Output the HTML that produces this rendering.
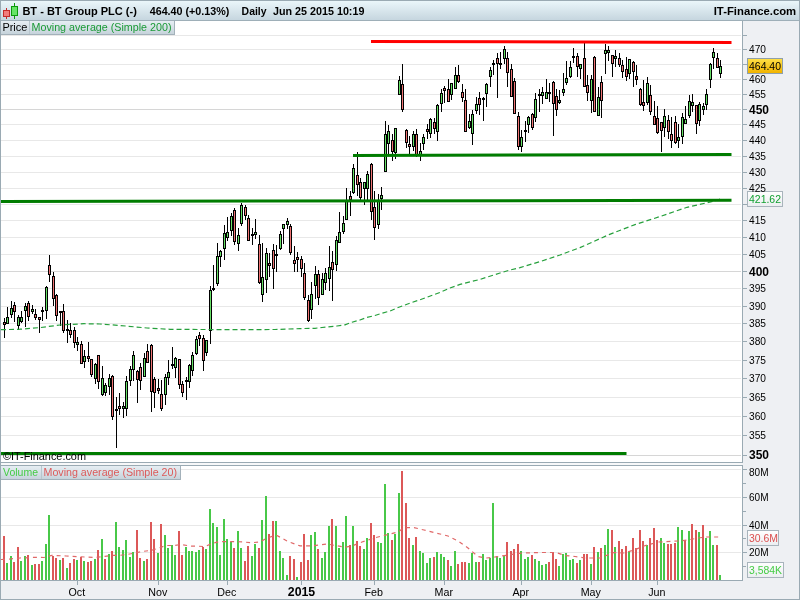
<!DOCTYPE html><html><head><meta charset="utf-8"><title>BT - BT Group PLC</title><style>html,body{margin:0;padding:0;background:#fff;}svg{display:block;}text{font-family:'Liberation Sans', Arial, sans-serif;}</style></head><body>
<svg width="800" height="600" viewBox="0 0 800 600">
<defs><linearGradient id="hdr" x1="0" y1="0" x2="0" y2="1"><stop offset="0" stop-color="#eaf6fa"/><stop offset="1" stop-color="#c6d6df"/></linearGradient><linearGradient id="leg" x1="0" y1="0" x2="0" y2="1"><stop offset="0" stop-color="#e6eef3"/><stop offset="1" stop-color="#c6d3db"/></linearGradient><linearGradient id="gold" x1="0" y1="0" x2="0" y2="1"><stop offset="0" stop-color="#ffe24a"/><stop offset="1" stop-color="#f2b400"/></linearGradient><linearGradient id="wbox" x1="0" y1="0" x2="0" y2="1"><stop offset="0" stop-color="#ffffff"/><stop offset="1" stop-color="#eceef1"/></linearGradient></defs>
<g shape-rendering="crispEdges">
<rect x="0" y="0" width="800" height="600" fill="#eef0f3"/>
<rect x="1" y="1" width="798" height="19" fill="url(#hdr)"/>
<rect x="1" y="20" width="798" height="1" fill="#9eafb8"/>
<rect x="1" y="21" width="741" height="441" fill="#ffffff"/>
<rect x="1" y="463" width="741" height="2" fill="#f7f8f9"/>
<rect x="1" y="466" width="741" height="114" fill="#ffffff"/>
<rect x="1" y="455" width="740" height="1" fill="#d6d6d6"/>
<rect x="1" y="435" width="740" height="1" fill="#e8e8e8"/>
<rect x="1" y="416" width="740" height="1" fill="#e8e8e8"/>
<rect x="1" y="397" width="740" height="1" fill="#e8e8e8"/>
<rect x="1" y="378" width="740" height="1" fill="#e8e8e8"/>
<rect x="1" y="360" width="740" height="1" fill="#e8e8e8"/>
<rect x="1" y="341" width="740" height="1" fill="#e8e8e8"/>
<rect x="1" y="323" width="740" height="1" fill="#e8e8e8"/>
<rect x="1" y="306" width="740" height="1" fill="#e8e8e8"/>
<rect x="1" y="288" width="740" height="1" fill="#e8e8e8"/>
<rect x="1" y="271" width="740" height="1" fill="#d6d6d6"/>
<rect x="1" y="254" width="740" height="1" fill="#e8e8e8"/>
<rect x="1" y="237" width="740" height="1" fill="#e8e8e8"/>
<rect x="1" y="220" width="740" height="1" fill="#e8e8e8"/>
<rect x="1" y="204" width="740" height="1" fill="#e8e8e8"/>
<rect x="1" y="188" width="740" height="1" fill="#e8e8e8"/>
<rect x="1" y="172" width="740" height="1" fill="#e8e8e8"/>
<rect x="1" y="156" width="740" height="1" fill="#e8e8e8"/>
<rect x="1" y="140" width="740" height="1" fill="#e8e8e8"/>
<rect x="1" y="124" width="740" height="1" fill="#e8e8e8"/>
<rect x="1" y="109" width="740" height="1" fill="#d6d6d6"/>
<rect x="1" y="94" width="740" height="1" fill="#e8e8e8"/>
<rect x="1" y="79" width="740" height="1" fill="#e8e8e8"/>
<rect x="1" y="64" width="740" height="1" fill="#e8e8e8"/>
<rect x="1" y="49" width="740" height="1" fill="#e8e8e8"/>
<rect x="1" y="35" width="740" height="1" fill="#e8e8e8"/>
<rect x="1" y="469" width="740" height="1" fill="#e8e8e8"/>
<rect x="1" y="497" width="740" height="1" fill="#e8e8e8"/>
<rect x="1" y="525" width="740" height="1" fill="#e8e8e8"/>
<rect x="1" y="552" width="740" height="1" fill="#e8e8e8"/>
<rect x="3" y="536" width="2" height="44" fill="#dc5858"/>
<rect x="6" y="563" width="2" height="17" fill="#48c848"/>
<rect x="10" y="556" width="2" height="24" fill="#48c848"/>
<rect x="13" y="562" width="2" height="18" fill="#dc5858"/>
<rect x="17" y="547" width="2" height="33" fill="#dc5858"/>
<rect x="20" y="561" width="2" height="19" fill="#48c848"/>
<rect x="24" y="556" width="2" height="24" fill="#48c848"/>
<rect x="27" y="555" width="2" height="25" fill="#dc5858"/>
<rect x="31" y="565" width="2" height="15" fill="#48c848"/>
<rect x="34" y="564" width="2" height="16" fill="#dc5858"/>
<rect x="38" y="564" width="2" height="16" fill="#dc5858"/>
<rect x="41" y="561" width="2" height="19" fill="#48c848"/>
<rect x="45" y="544" width="2" height="36" fill="#48c848"/>
<rect x="48" y="515" width="2" height="65" fill="#48c848"/>
<rect x="52" y="556" width="2" height="24" fill="#dc5858"/>
<rect x="55" y="558" width="2" height="22" fill="#dc5858"/>
<rect x="59" y="560" width="2" height="20" fill="#48c848"/>
<rect x="62" y="558" width="2" height="22" fill="#dc5858"/>
<rect x="66" y="568" width="2" height="12" fill="#48c848"/>
<rect x="69" y="563" width="2" height="17" fill="#dc5858"/>
<rect x="73" y="559" width="2" height="21" fill="#dc5858"/>
<rect x="76" y="560" width="2" height="20" fill="#48c848"/>
<rect x="80" y="557" width="2" height="23" fill="#dc5858"/>
<rect x="83" y="561" width="2" height="19" fill="#48c848"/>
<rect x="87" y="562" width="2" height="18" fill="#dc5858"/>
<rect x="90" y="561" width="2" height="19" fill="#dc5858"/>
<rect x="94" y="559" width="2" height="21" fill="#48c848"/>
<rect x="97" y="550" width="2" height="30" fill="#dc5858"/>
<rect x="101" y="539" width="2" height="41" fill="#48c848"/>
<rect x="104" y="559" width="2" height="21" fill="#dc5858"/>
<rect x="108" y="554" width="2" height="26" fill="#48c848"/>
<rect x="111" y="551" width="2" height="29" fill="#dc5858"/>
<rect x="115" y="522" width="2" height="58" fill="#48c848"/>
<rect x="118" y="547" width="2" height="33" fill="#48c848"/>
<rect x="122" y="550" width="2" height="30" fill="#48c848"/>
<rect x="125" y="540" width="2" height="40" fill="#48c848"/>
<rect x="129" y="557" width="2" height="23" fill="#48c848"/>
<rect x="132" y="552" width="2" height="28" fill="#48c848"/>
<rect x="136" y="530" width="2" height="50" fill="#dc5858"/>
<rect x="139" y="558" width="2" height="22" fill="#dc5858"/>
<rect x="143" y="561" width="2" height="19" fill="#48c848"/>
<rect x="146" y="559" width="2" height="21" fill="#dc5858"/>
<rect x="150" y="522" width="2" height="58" fill="#dc5858"/>
<rect x="153" y="539" width="2" height="41" fill="#dc5858"/>
<rect x="157" y="553" width="2" height="27" fill="#48c848"/>
<rect x="160" y="524" width="2" height="56" fill="#dc5858"/>
<rect x="164" y="535" width="2" height="45" fill="#48c848"/>
<rect x="167" y="548" width="2" height="32" fill="#48c848"/>
<rect x="171" y="545" width="2" height="35" fill="#48c848"/>
<rect x="174" y="555" width="2" height="25" fill="#48c848"/>
<rect x="178" y="531" width="2" height="49" fill="#dc5858"/>
<rect x="181" y="555" width="2" height="25" fill="#dc5858"/>
<rect x="185" y="547" width="2" height="33" fill="#48c848"/>
<rect x="188" y="551" width="2" height="29" fill="#48c848"/>
<rect x="191" y="551" width="2" height="29" fill="#48c848"/>
<rect x="195" y="552" width="2" height="28" fill="#48c848"/>
<rect x="198" y="550" width="2" height="30" fill="#48c848"/>
<rect x="202" y="547" width="2" height="33" fill="#dc5858"/>
<rect x="205" y="549" width="2" height="31" fill="#48c848"/>
<rect x="209" y="509" width="2" height="71" fill="#48c848"/>
<rect x="212" y="523" width="2" height="57" fill="#48c848"/>
<rect x="216" y="527" width="2" height="53" fill="#48c848"/>
<rect x="219" y="555" width="2" height="25" fill="#48c848"/>
<rect x="223" y="519" width="2" height="61" fill="#48c848"/>
<rect x="226" y="539" width="2" height="41" fill="#48c848"/>
<rect x="230" y="542" width="2" height="38" fill="#48c848"/>
<rect x="233" y="548" width="2" height="32" fill="#dc5858"/>
<rect x="237" y="531" width="2" height="49" fill="#48c848"/>
<rect x="240" y="548" width="2" height="32" fill="#48c848"/>
<rect x="244" y="561" width="2" height="19" fill="#dc5858"/>
<rect x="247" y="546" width="2" height="34" fill="#dc5858"/>
<rect x="251" y="556" width="2" height="24" fill="#48c848"/>
<rect x="254" y="544" width="2" height="36" fill="#48c848"/>
<rect x="258" y="548" width="2" height="32" fill="#dc5858"/>
<rect x="261" y="520" width="2" height="60" fill="#48c848"/>
<rect x="265" y="496" width="2" height="84" fill="#48c848"/>
<rect x="268" y="534" width="2" height="46" fill="#dc5858"/>
<rect x="272" y="521" width="2" height="59" fill="#dc5858"/>
<rect x="275" y="521" width="2" height="59" fill="#48c848"/>
<rect x="279" y="551" width="2" height="29" fill="#48c848"/>
<rect x="282" y="558" width="2" height="22" fill="#48c848"/>
<rect x="286" y="575" width="2" height="5" fill="#48c848"/>
<rect x="289" y="556" width="2" height="24" fill="#dc5858"/>
<rect x="293" y="559" width="2" height="21" fill="#dc5858"/>
<rect x="296" y="577" width="2" height="3" fill="#48c848"/>
<rect x="300" y="562" width="2" height="18" fill="#dc5858"/>
<rect x="303" y="534" width="2" height="46" fill="#dc5858"/>
<rect x="307" y="560" width="2" height="20" fill="#dc5858"/>
<rect x="310" y="535" width="2" height="45" fill="#48c848"/>
<rect x="314" y="532" width="2" height="48" fill="#48c848"/>
<rect x="317" y="549" width="2" height="31" fill="#dc5858"/>
<rect x="321" y="558" width="2" height="22" fill="#48c848"/>
<rect x="324" y="552" width="2" height="28" fill="#48c848"/>
<rect x="328" y="526" width="2" height="54" fill="#48c848"/>
<rect x="331" y="519" width="2" height="61" fill="#dc5858"/>
<rect x="335" y="526" width="2" height="54" fill="#48c848"/>
<rect x="338" y="548" width="2" height="32" fill="#48c848"/>
<rect x="342" y="542" width="2" height="38" fill="#48c848"/>
<rect x="345" y="516" width="2" height="64" fill="#48c848"/>
<rect x="349" y="545" width="2" height="35" fill="#dc5858"/>
<rect x="352" y="526" width="2" height="54" fill="#48c848"/>
<rect x="356" y="541" width="2" height="39" fill="#dc5858"/>
<rect x="359" y="546" width="2" height="34" fill="#dc5858"/>
<rect x="363" y="549" width="2" height="31" fill="#48c848"/>
<rect x="366" y="538" width="2" height="42" fill="#48c848"/>
<rect x="370" y="523" width="2" height="57" fill="#dc5858"/>
<rect x="373" y="535" width="2" height="45" fill="#dc5858"/>
<rect x="377" y="542" width="2" height="38" fill="#48c848"/>
<rect x="380" y="543" width="2" height="37" fill="#48c848"/>
<rect x="384" y="484" width="2" height="96" fill="#48c848"/>
<rect x="387" y="533" width="2" height="47" fill="#48c848"/>
<rect x="391" y="540" width="2" height="40" fill="#dc5858"/>
<rect x="394" y="534" width="2" height="46" fill="#48c848"/>
<rect x="398" y="493" width="2" height="87" fill="#48c848"/>
<rect x="401" y="471" width="2" height="109" fill="#dc5858"/>
<rect x="405" y="503" width="2" height="77" fill="#dc5858"/>
<rect x="408" y="538" width="2" height="42" fill="#dc5858"/>
<rect x="412" y="545" width="2" height="35" fill="#48c848"/>
<rect x="415" y="537" width="2" height="43" fill="#dc5858"/>
<rect x="419" y="551" width="2" height="29" fill="#48c848"/>
<rect x="422" y="553" width="2" height="27" fill="#48c848"/>
<rect x="426" y="563" width="2" height="17" fill="#48c848"/>
<rect x="429" y="558" width="2" height="22" fill="#48c848"/>
<rect x="433" y="557" width="2" height="23" fill="#dc5858"/>
<rect x="436" y="552" width="2" height="28" fill="#48c848"/>
<rect x="440" y="554" width="2" height="26" fill="#48c848"/>
<rect x="443" y="557" width="2" height="23" fill="#48c848"/>
<rect x="447" y="560" width="2" height="20" fill="#dc5858"/>
<rect x="450" y="566" width="2" height="14" fill="#48c848"/>
<rect x="454" y="551" width="2" height="29" fill="#48c848"/>
<rect x="457" y="564" width="2" height="16" fill="#dc5858"/>
<rect x="461" y="562" width="2" height="18" fill="#dc5858"/>
<rect x="464" y="562" width="2" height="18" fill="#dc5858"/>
<rect x="468" y="563" width="2" height="17" fill="#48c848"/>
<rect x="471" y="553" width="2" height="27" fill="#48c848"/>
<rect x="475" y="562" width="2" height="18" fill="#48c848"/>
<rect x="478" y="562" width="2" height="18" fill="#dc5858"/>
<rect x="482" y="554" width="2" height="26" fill="#48c848"/>
<rect x="485" y="560" width="2" height="20" fill="#48c848"/>
<rect x="489" y="558" width="2" height="22" fill="#48c848"/>
<rect x="492" y="503" width="2" height="77" fill="#48c848"/>
<rect x="496" y="556" width="2" height="24" fill="#48c848"/>
<rect x="499" y="558" width="2" height="22" fill="#48c848"/>
<rect x="503" y="556" width="2" height="24" fill="#48c848"/>
<rect x="506" y="542" width="2" height="38" fill="#dc5858"/>
<rect x="510" y="551" width="2" height="29" fill="#dc5858"/>
<rect x="513" y="549" width="2" height="31" fill="#dc5858"/>
<rect x="517" y="544" width="2" height="36" fill="#dc5858"/>
<rect x="520" y="551" width="2" height="29" fill="#48c848"/>
<rect x="524" y="559" width="2" height="21" fill="#48c848"/>
<rect x="527" y="557" width="2" height="23" fill="#48c848"/>
<rect x="531" y="555" width="2" height="25" fill="#dc5858"/>
<rect x="534" y="559" width="2" height="21" fill="#48c848"/>
<rect x="538" y="561" width="2" height="19" fill="#48c848"/>
<rect x="541" y="565" width="2" height="15" fill="#48c848"/>
<rect x="545" y="564" width="2" height="16" fill="#48c848"/>
<rect x="548" y="562" width="2" height="18" fill="#dc5858"/>
<rect x="552" y="552" width="2" height="28" fill="#dc5858"/>
<rect x="555" y="559" width="2" height="21" fill="#dc5858"/>
<rect x="558" y="566" width="2" height="14" fill="#48c848"/>
<rect x="562" y="554" width="2" height="26" fill="#48c848"/>
<rect x="565" y="553" width="2" height="27" fill="#48c848"/>
<rect x="569" y="560" width="2" height="20" fill="#48c848"/>
<rect x="572" y="559" width="2" height="21" fill="#48c848"/>
<rect x="576" y="563" width="2" height="17" fill="#dc5858"/>
<rect x="579" y="560" width="2" height="20" fill="#48c848"/>
<rect x="583" y="554" width="2" height="26" fill="#dc5858"/>
<rect x="586" y="554" width="2" height="26" fill="#dc5858"/>
<rect x="590" y="564" width="2" height="16" fill="#48c848"/>
<rect x="593" y="547" width="2" height="33" fill="#dc5858"/>
<rect x="597" y="552" width="2" height="28" fill="#48c848"/>
<rect x="600" y="548" width="2" height="32" fill="#dc5858"/>
<rect x="604" y="545" width="2" height="35" fill="#48c848"/>
<rect x="607" y="529" width="2" height="51" fill="#48c848"/>
<rect x="611" y="530" width="2" height="50" fill="#dc5858"/>
<rect x="614" y="547" width="2" height="33" fill="#48c848"/>
<rect x="618" y="541" width="2" height="39" fill="#dc5858"/>
<rect x="621" y="549" width="2" height="31" fill="#dc5858"/>
<rect x="625" y="546" width="2" height="34" fill="#dc5858"/>
<rect x="628" y="551" width="2" height="29" fill="#48c848"/>
<rect x="632" y="538" width="2" height="42" fill="#dc5858"/>
<rect x="635" y="548" width="2" height="32" fill="#dc5858"/>
<rect x="639" y="530" width="2" height="50" fill="#dc5858"/>
<rect x="642" y="541" width="2" height="39" fill="#dc5858"/>
<rect x="646" y="545" width="2" height="35" fill="#48c848"/>
<rect x="649" y="538" width="2" height="42" fill="#dc5858"/>
<rect x="653" y="528" width="2" height="52" fill="#dc5858"/>
<rect x="656" y="540" width="2" height="40" fill="#dc5858"/>
<rect x="660" y="538" width="2" height="42" fill="#48c848"/>
<rect x="663" y="543" width="2" height="37" fill="#48c848"/>
<rect x="667" y="544" width="2" height="36" fill="#dc5858"/>
<rect x="670" y="544" width="2" height="36" fill="#dc5858"/>
<rect x="674" y="543" width="2" height="37" fill="#dc5858"/>
<rect x="677" y="527" width="2" height="53" fill="#48c848"/>
<rect x="681" y="530" width="2" height="50" fill="#48c848"/>
<rect x="684" y="540" width="2" height="40" fill="#dc5858"/>
<rect x="688" y="531" width="2" height="49" fill="#48c848"/>
<rect x="691" y="524" width="2" height="56" fill="#dc5858"/>
<rect x="695" y="530" width="2" height="50" fill="#dc5858"/>
<rect x="698" y="532" width="2" height="48" fill="#48c848"/>
<rect x="702" y="525" width="2" height="55" fill="#dc5858"/>
<rect x="705" y="538" width="2" height="42" fill="#48c848"/>
<rect x="709" y="531" width="2" height="49" fill="#48c848"/>
<rect x="712" y="545" width="2" height="35" fill="#48c848"/>
<rect x="716" y="545" width="2" height="35" fill="#dc5858"/>
<rect x="719" y="575" width="2" height="5" fill="#48c848"/>
<rect x="4" y="318" width="1" height="20" fill="#000"/>
<rect x="3" y="322" width="3" height="3" fill="#000"/>
<rect x="4" y="323" width="1" height="1" fill="#f07474"/>
<rect x="7" y="307" width="1" height="17" fill="#000"/>
<rect x="6" y="317" width="3" height="7" fill="#000"/>
<rect x="7" y="318" width="1" height="5" fill="#66e066"/>
<rect x="11" y="301" width="1" height="17" fill="#000"/>
<rect x="10" y="308" width="3" height="7" fill="#000"/>
<rect x="11" y="309" width="1" height="5" fill="#66e066"/>
<rect x="14" y="302" width="1" height="20" fill="#000"/>
<rect x="13" y="305" width="3" height="7" fill="#000"/>
<rect x="14" y="306" width="1" height="5" fill="#f07474"/>
<rect x="18" y="315" width="1" height="15" fill="#000"/>
<rect x="17" y="317" width="3" height="9" fill="#000"/>
<rect x="18" y="318" width="1" height="7" fill="#66e066"/>
<rect x="21" y="311" width="1" height="12" fill="#000"/>
<rect x="20" y="317" width="3" height="5" fill="#000"/>
<rect x="21" y="318" width="1" height="3" fill="#66e066"/>
<rect x="25" y="303" width="1" height="24" fill="#000"/>
<rect x="24" y="306" width="3" height="5" fill="#000"/>
<rect x="25" y="307" width="1" height="3" fill="#66e066"/>
<rect x="28" y="301" width="1" height="20" fill="#000"/>
<rect x="27" y="303" width="3" height="14" fill="#000"/>
<rect x="28" y="304" width="1" height="12" fill="#f07474"/>
<rect x="32" y="305" width="1" height="9" fill="#000"/>
<rect x="31" y="309" width="3" height="3" fill="#000"/>
<rect x="32" y="310" width="1" height="1" fill="#66e066"/>
<rect x="35" y="309" width="1" height="11" fill="#000"/>
<rect x="34" y="314" width="3" height="4" fill="#000"/>
<rect x="35" y="315" width="1" height="2" fill="#f07474"/>
<rect x="39" y="317" width="1" height="16" fill="#000"/>
<rect x="38" y="317" width="3" height="3" fill="#000"/>
<rect x="39" y="318" width="1" height="1" fill="#f07474"/>
<rect x="42" y="307" width="1" height="14" fill="#000"/>
<rect x="41" y="310" width="3" height="2" fill="#000"/>
<rect x="46" y="286" width="1" height="33" fill="#000"/>
<rect x="45" y="287" width="3" height="24" fill="#000"/>
<rect x="46" y="288" width="1" height="22" fill="#66e066"/>
<rect x="49" y="255" width="1" height="27" fill="#000"/>
<rect x="48" y="265" width="3" height="10" fill="#000"/>
<rect x="49" y="266" width="1" height="8" fill="#f07474"/>
<rect x="53" y="272" width="1" height="34" fill="#000"/>
<rect x="52" y="276" width="3" height="23" fill="#000"/>
<rect x="53" y="277" width="1" height="21" fill="#f07474"/>
<rect x="56" y="294" width="1" height="27" fill="#000"/>
<rect x="55" y="295" width="3" height="21" fill="#000"/>
<rect x="56" y="296" width="1" height="19" fill="#f07474"/>
<rect x="60" y="312" width="1" height="14" fill="#000"/>
<rect x="59" y="311" width="3" height="2" fill="#000"/>
<rect x="63" y="304" width="1" height="29" fill="#000"/>
<rect x="62" y="311" width="3" height="20" fill="#000"/>
<rect x="63" y="312" width="1" height="18" fill="#f07474"/>
<rect x="67" y="320" width="1" height="23" fill="#000"/>
<rect x="66" y="329" width="3" height="2" fill="#000"/>
<rect x="70" y="323" width="1" height="15" fill="#000"/>
<rect x="69" y="330" width="3" height="5" fill="#000"/>
<rect x="70" y="331" width="1" height="3" fill="#f07474"/>
<rect x="74" y="327" width="1" height="21" fill="#000"/>
<rect x="73" y="330" width="3" height="13" fill="#000"/>
<rect x="74" y="331" width="1" height="11" fill="#f07474"/>
<rect x="77" y="337" width="1" height="14" fill="#000"/>
<rect x="76" y="342" width="3" height="3" fill="#000"/>
<rect x="77" y="343" width="1" height="1" fill="#66e066"/>
<rect x="81" y="341" width="1" height="23" fill="#000"/>
<rect x="80" y="344" width="3" height="20" fill="#000"/>
<rect x="81" y="345" width="1" height="18" fill="#f07474"/>
<rect x="84" y="350" width="1" height="18" fill="#000"/>
<rect x="83" y="356" width="3" height="6" fill="#000"/>
<rect x="84" y="357" width="1" height="4" fill="#66e066"/>
<rect x="88" y="342" width="1" height="20" fill="#000"/>
<rect x="87" y="356" width="3" height="3" fill="#000"/>
<rect x="88" y="357" width="1" height="1" fill="#f07474"/>
<rect x="91" y="359" width="1" height="18" fill="#000"/>
<rect x="90" y="359" width="3" height="16" fill="#000"/>
<rect x="91" y="360" width="1" height="14" fill="#f07474"/>
<rect x="95" y="363" width="1" height="21" fill="#000"/>
<rect x="94" y="364" width="3" height="15" fill="#000"/>
<rect x="95" y="365" width="1" height="13" fill="#66e066"/>
<rect x="98" y="355" width="1" height="34" fill="#000"/>
<rect x="97" y="355" width="3" height="27" fill="#000"/>
<rect x="98" y="356" width="1" height="25" fill="#f07474"/>
<rect x="102" y="366" width="1" height="30" fill="#000"/>
<rect x="101" y="378" width="3" height="17" fill="#000"/>
<rect x="102" y="379" width="1" height="15" fill="#66e066"/>
<rect x="105" y="383" width="1" height="13" fill="#000"/>
<rect x="104" y="385" width="3" height="8" fill="#000"/>
<rect x="105" y="386" width="1" height="6" fill="#66e066"/>
<rect x="109" y="374" width="1" height="21" fill="#000"/>
<rect x="108" y="378" width="3" height="9" fill="#000"/>
<rect x="109" y="379" width="1" height="7" fill="#66e066"/>
<rect x="112" y="375" width="1" height="45" fill="#000"/>
<rect x="111" y="376" width="3" height="41" fill="#000"/>
<rect x="112" y="377" width="1" height="39" fill="#f07474"/>
<rect x="116" y="397" width="1" height="51" fill="#000"/>
<rect x="115" y="409" width="3" height="2" fill="#000"/>
<rect x="119" y="393" width="1" height="22" fill="#000"/>
<rect x="118" y="406" width="3" height="3" fill="#000"/>
<rect x="119" y="407" width="1" height="1" fill="#f07474"/>
<rect x="123" y="402" width="1" height="16" fill="#000"/>
<rect x="122" y="406" width="3" height="3" fill="#000"/>
<rect x="123" y="407" width="1" height="1" fill="#66e066"/>
<rect x="126" y="376" width="1" height="40" fill="#000"/>
<rect x="125" y="381" width="3" height="28" fill="#000"/>
<rect x="126" y="382" width="1" height="26" fill="#66e066"/>
<rect x="130" y="366" width="1" height="20" fill="#000"/>
<rect x="129" y="369" width="3" height="12" fill="#000"/>
<rect x="130" y="370" width="1" height="10" fill="#66e066"/>
<rect x="133" y="351" width="1" height="30" fill="#000"/>
<rect x="132" y="355" width="3" height="15" fill="#000"/>
<rect x="133" y="356" width="1" height="13" fill="#66e066"/>
<rect x="137" y="370" width="1" height="33" fill="#000"/>
<rect x="136" y="371" width="3" height="9" fill="#000"/>
<rect x="137" y="372" width="1" height="7" fill="#f07474"/>
<rect x="140" y="363" width="1" height="27" fill="#000"/>
<rect x="139" y="367" width="3" height="14" fill="#000"/>
<rect x="140" y="368" width="1" height="12" fill="#f07474"/>
<rect x="144" y="353" width="1" height="24" fill="#000"/>
<rect x="143" y="358" width="3" height="19" fill="#000"/>
<rect x="144" y="359" width="1" height="17" fill="#66e066"/>
<rect x="147" y="344" width="1" height="19" fill="#000"/>
<rect x="146" y="351" width="3" height="12" fill="#000"/>
<rect x="147" y="352" width="1" height="10" fill="#f07474"/>
<rect x="151" y="344" width="1" height="68" fill="#000"/>
<rect x="150" y="345" width="3" height="47" fill="#000"/>
<rect x="151" y="346" width="1" height="45" fill="#f07474"/>
<rect x="154" y="377" width="1" height="31" fill="#000"/>
<rect x="153" y="379" width="3" height="14" fill="#000"/>
<rect x="154" y="380" width="1" height="12" fill="#f07474"/>
<rect x="158" y="379" width="1" height="15" fill="#000"/>
<rect x="157" y="388" width="3" height="3" fill="#000"/>
<rect x="158" y="389" width="1" height="1" fill="#f07474"/>
<rect x="161" y="380" width="1" height="31" fill="#000"/>
<rect x="160" y="394" width="3" height="15" fill="#000"/>
<rect x="161" y="395" width="1" height="13" fill="#f07474"/>
<rect x="165" y="374" width="1" height="31" fill="#000"/>
<rect x="164" y="377" width="3" height="18" fill="#000"/>
<rect x="165" y="378" width="1" height="16" fill="#66e066"/>
<rect x="168" y="360" width="1" height="25" fill="#000"/>
<rect x="167" y="372" width="3" height="6" fill="#000"/>
<rect x="168" y="373" width="1" height="4" fill="#66e066"/>
<rect x="172" y="347" width="1" height="22" fill="#000"/>
<rect x="171" y="364" width="3" height="2" fill="#000"/>
<rect x="175" y="357" width="1" height="21" fill="#000"/>
<rect x="174" y="358" width="3" height="10" fill="#000"/>
<rect x="175" y="359" width="1" height="8" fill="#66e066"/>
<rect x="179" y="359" width="1" height="30" fill="#000"/>
<rect x="178" y="359" width="3" height="26" fill="#000"/>
<rect x="179" y="360" width="1" height="24" fill="#f07474"/>
<rect x="182" y="381" width="1" height="16" fill="#000"/>
<rect x="181" y="384" width="3" height="9" fill="#000"/>
<rect x="182" y="385" width="1" height="7" fill="#f07474"/>
<rect x="186" y="377" width="1" height="23" fill="#000"/>
<rect x="185" y="380" width="3" height="2" fill="#000"/>
<rect x="189" y="364" width="1" height="24" fill="#000"/>
<rect x="188" y="365" width="3" height="17" fill="#000"/>
<rect x="189" y="366" width="1" height="15" fill="#66e066"/>
<rect x="192" y="352" width="1" height="24" fill="#000"/>
<rect x="191" y="355" width="3" height="16" fill="#000"/>
<rect x="192" y="356" width="1" height="14" fill="#66e066"/>
<rect x="196" y="336" width="1" height="19" fill="#000"/>
<rect x="195" y="339" width="3" height="15" fill="#000"/>
<rect x="196" y="340" width="1" height="13" fill="#66e066"/>
<rect x="199" y="332" width="1" height="14" fill="#000"/>
<rect x="198" y="335" width="3" height="4" fill="#000"/>
<rect x="199" y="336" width="1" height="2" fill="#f07474"/>
<rect x="203" y="335" width="1" height="36" fill="#000"/>
<rect x="202" y="338" width="3" height="23" fill="#000"/>
<rect x="203" y="339" width="1" height="21" fill="#f07474"/>
<rect x="206" y="340" width="1" height="16" fill="#000"/>
<rect x="205" y="340" width="3" height="13" fill="#000"/>
<rect x="206" y="341" width="1" height="11" fill="#66e066"/>
<rect x="210" y="286" width="1" height="58" fill="#000"/>
<rect x="209" y="290" width="3" height="41" fill="#000"/>
<rect x="210" y="291" width="1" height="39" fill="#66e066"/>
<rect x="213" y="265" width="1" height="26" fill="#000"/>
<rect x="212" y="288" width="3" height="2" fill="#000"/>
<rect x="217" y="243" width="1" height="43" fill="#000"/>
<rect x="216" y="256" width="3" height="28" fill="#000"/>
<rect x="217" y="257" width="1" height="26" fill="#66e066"/>
<rect x="220" y="250" width="1" height="17" fill="#000"/>
<rect x="219" y="251" width="3" height="6" fill="#000"/>
<rect x="220" y="252" width="1" height="4" fill="#66e066"/>
<rect x="224" y="225" width="1" height="35" fill="#000"/>
<rect x="223" y="233" width="3" height="16" fill="#000"/>
<rect x="224" y="234" width="1" height="14" fill="#66e066"/>
<rect x="227" y="217" width="1" height="24" fill="#000"/>
<rect x="226" y="232" width="3" height="6" fill="#000"/>
<rect x="227" y="233" width="1" height="4" fill="#66e066"/>
<rect x="231" y="213" width="1" height="23" fill="#000"/>
<rect x="230" y="216" width="3" height="15" fill="#000"/>
<rect x="231" y="217" width="1" height="13" fill="#66e066"/>
<rect x="234" y="208" width="1" height="37" fill="#000"/>
<rect x="233" y="210" width="3" height="32" fill="#000"/>
<rect x="234" y="211" width="1" height="30" fill="#f07474"/>
<rect x="238" y="228" width="1" height="23" fill="#000"/>
<rect x="237" y="235" width="3" height="9" fill="#000"/>
<rect x="238" y="236" width="1" height="7" fill="#66e066"/>
<rect x="241" y="203" width="1" height="23" fill="#000"/>
<rect x="240" y="205" width="3" height="19" fill="#000"/>
<rect x="241" y="206" width="1" height="17" fill="#66e066"/>
<rect x="245" y="205" width="1" height="15" fill="#000"/>
<rect x="244" y="207" width="3" height="9" fill="#000"/>
<rect x="245" y="208" width="1" height="7" fill="#f07474"/>
<rect x="248" y="215" width="1" height="26" fill="#000"/>
<rect x="247" y="218" width="3" height="23" fill="#000"/>
<rect x="248" y="219" width="1" height="21" fill="#f07474"/>
<rect x="252" y="228" width="1" height="17" fill="#000"/>
<rect x="251" y="234" width="3" height="2" fill="#000"/>
<rect x="255" y="219" width="1" height="20" fill="#000"/>
<rect x="254" y="232" width="3" height="3" fill="#000"/>
<rect x="255" y="233" width="1" height="1" fill="#66e066"/>
<rect x="259" y="235" width="1" height="49" fill="#000"/>
<rect x="258" y="244" width="3" height="39" fill="#000"/>
<rect x="259" y="245" width="1" height="37" fill="#f07474"/>
<rect x="262" y="243" width="1" height="59" fill="#000"/>
<rect x="261" y="277" width="3" height="18" fill="#000"/>
<rect x="262" y="278" width="1" height="16" fill="#66e066"/>
<rect x="266" y="248" width="1" height="45" fill="#000"/>
<rect x="265" y="253" width="3" height="27" fill="#000"/>
<rect x="266" y="254" width="1" height="25" fill="#66e066"/>
<rect x="269" y="253" width="1" height="24" fill="#000"/>
<rect x="268" y="263" width="3" height="3" fill="#000"/>
<rect x="269" y="264" width="1" height="1" fill="#f07474"/>
<rect x="273" y="244" width="1" height="45" fill="#000"/>
<rect x="272" y="250" width="3" height="19" fill="#000"/>
<rect x="273" y="251" width="1" height="17" fill="#f07474"/>
<rect x="276" y="245" width="1" height="27" fill="#000"/>
<rect x="275" y="254" width="3" height="2" fill="#000"/>
<rect x="280" y="231" width="1" height="19" fill="#000"/>
<rect x="279" y="234" width="3" height="15" fill="#000"/>
<rect x="280" y="235" width="1" height="13" fill="#66e066"/>
<rect x="283" y="224" width="1" height="20" fill="#000"/>
<rect x="282" y="224" width="3" height="5" fill="#000"/>
<rect x="283" y="225" width="1" height="3" fill="#66e066"/>
<rect x="287" y="218" width="1" height="11" fill="#000"/>
<rect x="286" y="221" width="3" height="4" fill="#000"/>
<rect x="287" y="222" width="1" height="2" fill="#66e066"/>
<rect x="290" y="224" width="1" height="31" fill="#000"/>
<rect x="289" y="226" width="3" height="27" fill="#000"/>
<rect x="290" y="227" width="1" height="25" fill="#f07474"/>
<rect x="294" y="246" width="1" height="26" fill="#000"/>
<rect x="293" y="260" width="3" height="4" fill="#000"/>
<rect x="294" y="261" width="1" height="2" fill="#f07474"/>
<rect x="297" y="252" width="1" height="20" fill="#000"/>
<rect x="296" y="257" width="3" height="3" fill="#000"/>
<rect x="297" y="258" width="1" height="1" fill="#f07474"/>
<rect x="301" y="256" width="1" height="21" fill="#000"/>
<rect x="300" y="259" width="3" height="10" fill="#000"/>
<rect x="301" y="260" width="1" height="8" fill="#f07474"/>
<rect x="304" y="263" width="1" height="37" fill="#000"/>
<rect x="303" y="273" width="3" height="25" fill="#000"/>
<rect x="304" y="274" width="1" height="23" fill="#f07474"/>
<rect x="308" y="295" width="1" height="27" fill="#000"/>
<rect x="307" y="300" width="3" height="21" fill="#000"/>
<rect x="308" y="301" width="1" height="19" fill="#f07474"/>
<rect x="311" y="282" width="1" height="37" fill="#000"/>
<rect x="310" y="294" width="3" height="16" fill="#000"/>
<rect x="311" y="295" width="1" height="14" fill="#66e066"/>
<rect x="315" y="266" width="1" height="33" fill="#000"/>
<rect x="314" y="274" width="3" height="12" fill="#000"/>
<rect x="315" y="275" width="1" height="10" fill="#66e066"/>
<rect x="318" y="270" width="1" height="35" fill="#000"/>
<rect x="317" y="274" width="3" height="24" fill="#000"/>
<rect x="318" y="275" width="1" height="22" fill="#f07474"/>
<rect x="322" y="273" width="1" height="22" fill="#000"/>
<rect x="321" y="279" width="3" height="16" fill="#000"/>
<rect x="322" y="280" width="1" height="14" fill="#66e066"/>
<rect x="325" y="268" width="1" height="22" fill="#000"/>
<rect x="324" y="273" width="3" height="10" fill="#000"/>
<rect x="325" y="274" width="1" height="8" fill="#66e066"/>
<rect x="329" y="246" width="1" height="45" fill="#000"/>
<rect x="328" y="267" width="3" height="12" fill="#000"/>
<rect x="329" y="268" width="1" height="10" fill="#66e066"/>
<rect x="332" y="251" width="1" height="50" fill="#000"/>
<rect x="331" y="262" width="3" height="8" fill="#000"/>
<rect x="332" y="263" width="1" height="6" fill="#f07474"/>
<rect x="336" y="236" width="1" height="35" fill="#000"/>
<rect x="335" y="240" width="3" height="25" fill="#000"/>
<rect x="336" y="241" width="1" height="23" fill="#66e066"/>
<rect x="339" y="212" width="1" height="31" fill="#000"/>
<rect x="338" y="232" width="3" height="11" fill="#000"/>
<rect x="339" y="233" width="1" height="9" fill="#66e066"/>
<rect x="343" y="216" width="1" height="18" fill="#000"/>
<rect x="342" y="223" width="3" height="9" fill="#000"/>
<rect x="343" y="224" width="1" height="7" fill="#66e066"/>
<rect x="346" y="188" width="1" height="32" fill="#000"/>
<rect x="345" y="200" width="3" height="20" fill="#000"/>
<rect x="346" y="201" width="1" height="18" fill="#66e066"/>
<rect x="350" y="191" width="1" height="25" fill="#000"/>
<rect x="349" y="196" width="3" height="4" fill="#000"/>
<rect x="350" y="197" width="1" height="2" fill="#f07474"/>
<rect x="353" y="164" width="1" height="30" fill="#000"/>
<rect x="352" y="168" width="3" height="25" fill="#000"/>
<rect x="353" y="169" width="1" height="23" fill="#66e066"/>
<rect x="357" y="152" width="1" height="44" fill="#000"/>
<rect x="356" y="175" width="3" height="10" fill="#000"/>
<rect x="357" y="176" width="1" height="8" fill="#f07474"/>
<rect x="360" y="178" width="1" height="22" fill="#000"/>
<rect x="359" y="182" width="3" height="16" fill="#000"/>
<rect x="360" y="183" width="1" height="14" fill="#f07474"/>
<rect x="364" y="182" width="1" height="23" fill="#000"/>
<rect x="363" y="182" width="3" height="7" fill="#000"/>
<rect x="364" y="183" width="1" height="5" fill="#66e066"/>
<rect x="367" y="171" width="1" height="29" fill="#000"/>
<rect x="366" y="174" width="3" height="15" fill="#000"/>
<rect x="367" y="175" width="1" height="13" fill="#66e066"/>
<rect x="371" y="163" width="1" height="57" fill="#000"/>
<rect x="370" y="164" width="3" height="48" fill="#000"/>
<rect x="371" y="165" width="1" height="46" fill="#f07474"/>
<rect x="374" y="191" width="1" height="49" fill="#000"/>
<rect x="373" y="207" width="3" height="21" fill="#000"/>
<rect x="374" y="208" width="1" height="19" fill="#f07474"/>
<rect x="378" y="194" width="1" height="35" fill="#000"/>
<rect x="377" y="200" width="3" height="25" fill="#000"/>
<rect x="378" y="201" width="1" height="23" fill="#66e066"/>
<rect x="381" y="187" width="1" height="23" fill="#000"/>
<rect x="380" y="195" width="3" height="4" fill="#000"/>
<rect x="381" y="196" width="1" height="2" fill="#66e066"/>
<rect x="385" y="121" width="1" height="51" fill="#000"/>
<rect x="384" y="134" width="3" height="38" fill="#000"/>
<rect x="385" y="135" width="1" height="36" fill="#66e066"/>
<rect x="388" y="125" width="1" height="29" fill="#000"/>
<rect x="387" y="131" width="3" height="13" fill="#000"/>
<rect x="388" y="132" width="1" height="11" fill="#66e066"/>
<rect x="392" y="134" width="1" height="27" fill="#000"/>
<rect x="391" y="140" width="3" height="12" fill="#000"/>
<rect x="392" y="141" width="1" height="10" fill="#f07474"/>
<rect x="395" y="128" width="1" height="31" fill="#000"/>
<rect x="394" y="128" width="3" height="25" fill="#000"/>
<rect x="395" y="129" width="1" height="23" fill="#66e066"/>
<rect x="399" y="76" width="1" height="19" fill="#000"/>
<rect x="398" y="80" width="3" height="15" fill="#000"/>
<rect x="399" y="81" width="1" height="13" fill="#66e066"/>
<rect x="402" y="64" width="1" height="48" fill="#000"/>
<rect x="401" y="84" width="3" height="26" fill="#000"/>
<rect x="402" y="85" width="1" height="24" fill="#f07474"/>
<rect x="406" y="129" width="1" height="19" fill="#000"/>
<rect x="405" y="130" width="3" height="13" fill="#000"/>
<rect x="406" y="131" width="1" height="11" fill="#f07474"/>
<rect x="409" y="136" width="1" height="20" fill="#000"/>
<rect x="408" y="144" width="3" height="3" fill="#000"/>
<rect x="409" y="145" width="1" height="1" fill="#f07474"/>
<rect x="413" y="131" width="1" height="20" fill="#000"/>
<rect x="412" y="134" width="3" height="13" fill="#000"/>
<rect x="413" y="135" width="1" height="11" fill="#66e066"/>
<rect x="416" y="129" width="1" height="28" fill="#000"/>
<rect x="415" y="134" width="3" height="21" fill="#000"/>
<rect x="416" y="135" width="1" height="19" fill="#f07474"/>
<rect x="420" y="143" width="1" height="18" fill="#000"/>
<rect x="419" y="151" width="3" height="4" fill="#000"/>
<rect x="420" y="152" width="1" height="2" fill="#66e066"/>
<rect x="423" y="134" width="1" height="16" fill="#000"/>
<rect x="422" y="137" width="3" height="7" fill="#000"/>
<rect x="423" y="138" width="1" height="5" fill="#66e066"/>
<rect x="427" y="124" width="1" height="15" fill="#000"/>
<rect x="426" y="129" width="3" height="3" fill="#000"/>
<rect x="427" y="130" width="1" height="1" fill="#f07474"/>
<rect x="430" y="118" width="1" height="20" fill="#000"/>
<rect x="429" y="119" width="3" height="15" fill="#000"/>
<rect x="430" y="120" width="1" height="13" fill="#66e066"/>
<rect x="434" y="118" width="1" height="16" fill="#000"/>
<rect x="433" y="122" width="3" height="7" fill="#000"/>
<rect x="434" y="123" width="1" height="5" fill="#f07474"/>
<rect x="437" y="104" width="1" height="37" fill="#000"/>
<rect x="436" y="105" width="3" height="27" fill="#000"/>
<rect x="437" y="106" width="1" height="25" fill="#66e066"/>
<rect x="441" y="89" width="1" height="23" fill="#000"/>
<rect x="440" y="93" width="3" height="11" fill="#000"/>
<rect x="441" y="94" width="1" height="9" fill="#66e066"/>
<rect x="444" y="86" width="1" height="17" fill="#000"/>
<rect x="443" y="88" width="3" height="3" fill="#000"/>
<rect x="444" y="89" width="1" height="1" fill="#f07474"/>
<rect x="448" y="79" width="1" height="23" fill="#000"/>
<rect x="447" y="89" width="3" height="13" fill="#000"/>
<rect x="448" y="90" width="1" height="11" fill="#f07474"/>
<rect x="451" y="83" width="1" height="17" fill="#000"/>
<rect x="450" y="83" width="3" height="12" fill="#000"/>
<rect x="451" y="84" width="1" height="10" fill="#66e066"/>
<rect x="455" y="67" width="1" height="22" fill="#000"/>
<rect x="454" y="75" width="3" height="14" fill="#000"/>
<rect x="455" y="76" width="1" height="12" fill="#66e066"/>
<rect x="458" y="65" width="1" height="18" fill="#000"/>
<rect x="457" y="75" width="3" height="7" fill="#000"/>
<rect x="458" y="76" width="1" height="5" fill="#f07474"/>
<rect x="462" y="84" width="1" height="18" fill="#000"/>
<rect x="461" y="92" width="3" height="6" fill="#000"/>
<rect x="462" y="93" width="1" height="4" fill="#f07474"/>
<rect x="465" y="89" width="1" height="43" fill="#000"/>
<rect x="464" y="100" width="3" height="32" fill="#000"/>
<rect x="465" y="101" width="1" height="30" fill="#f07474"/>
<rect x="469" y="114" width="1" height="15" fill="#000"/>
<rect x="468" y="121" width="3" height="7" fill="#000"/>
<rect x="469" y="122" width="1" height="5" fill="#66e066"/>
<rect x="472" y="110" width="1" height="35" fill="#000"/>
<rect x="471" y="114" width="3" height="20" fill="#000"/>
<rect x="472" y="115" width="1" height="18" fill="#66e066"/>
<rect x="476" y="97" width="1" height="17" fill="#000"/>
<rect x="475" y="104" width="3" height="7" fill="#000"/>
<rect x="476" y="105" width="1" height="5" fill="#66e066"/>
<rect x="479" y="92" width="1" height="23" fill="#000"/>
<rect x="478" y="98" width="3" height="7" fill="#000"/>
<rect x="479" y="99" width="1" height="5" fill="#f07474"/>
<rect x="483" y="97" width="1" height="24" fill="#000"/>
<rect x="482" y="98" width="3" height="2" fill="#000"/>
<rect x="486" y="83" width="1" height="24" fill="#000"/>
<rect x="485" y="84" width="3" height="10" fill="#000"/>
<rect x="486" y="85" width="1" height="8" fill="#66e066"/>
<rect x="490" y="67" width="1" height="20" fill="#000"/>
<rect x="489" y="70" width="3" height="7" fill="#000"/>
<rect x="490" y="71" width="1" height="5" fill="#66e066"/>
<rect x="493" y="60" width="1" height="15" fill="#000"/>
<rect x="492" y="63" width="3" height="2" fill="#000"/>
<rect x="497" y="53" width="1" height="45" fill="#000"/>
<rect x="496" y="58" width="3" height="6" fill="#000"/>
<rect x="497" y="59" width="1" height="4" fill="#f07474"/>
<rect x="500" y="52" width="1" height="17" fill="#000"/>
<rect x="499" y="63" width="3" height="2" fill="#000"/>
<rect x="504" y="46" width="1" height="18" fill="#000"/>
<rect x="503" y="49" width="3" height="10" fill="#000"/>
<rect x="504" y="50" width="1" height="8" fill="#66e066"/>
<rect x="507" y="52" width="1" height="35" fill="#000"/>
<rect x="506" y="58" width="3" height="15" fill="#000"/>
<rect x="507" y="59" width="1" height="13" fill="#f07474"/>
<rect x="511" y="64" width="1" height="33" fill="#000"/>
<rect x="510" y="69" width="3" height="28" fill="#000"/>
<rect x="511" y="70" width="1" height="26" fill="#f07474"/>
<rect x="514" y="78" width="1" height="36" fill="#000"/>
<rect x="513" y="81" width="3" height="33" fill="#000"/>
<rect x="514" y="82" width="1" height="31" fill="#f07474"/>
<rect x="518" y="112" width="1" height="38" fill="#000"/>
<rect x="517" y="116" width="3" height="31" fill="#000"/>
<rect x="518" y="117" width="1" height="29" fill="#f07474"/>
<rect x="521" y="130" width="1" height="22" fill="#000"/>
<rect x="520" y="137" width="3" height="10" fill="#000"/>
<rect x="521" y="138" width="1" height="8" fill="#66e066"/>
<rect x="525" y="121" width="1" height="21" fill="#000"/>
<rect x="524" y="130" width="3" height="2" fill="#000"/>
<rect x="528" y="116" width="1" height="17" fill="#000"/>
<rect x="527" y="117" width="3" height="8" fill="#000"/>
<rect x="528" y="118" width="1" height="6" fill="#66e066"/>
<rect x="532" y="113" width="1" height="17" fill="#000"/>
<rect x="531" y="114" width="3" height="14" fill="#000"/>
<rect x="532" y="115" width="1" height="12" fill="#f07474"/>
<rect x="535" y="93" width="1" height="29" fill="#000"/>
<rect x="534" y="99" width="3" height="19" fill="#000"/>
<rect x="535" y="100" width="1" height="17" fill="#66e066"/>
<rect x="539" y="89" width="1" height="23" fill="#000"/>
<rect x="538" y="94" width="3" height="2" fill="#000"/>
<rect x="542" y="87" width="1" height="17" fill="#000"/>
<rect x="541" y="92" width="3" height="4" fill="#000"/>
<rect x="542" y="93" width="1" height="2" fill="#66e066"/>
<rect x="546" y="79" width="1" height="20" fill="#000"/>
<rect x="545" y="92" width="3" height="7" fill="#000"/>
<rect x="546" y="93" width="1" height="5" fill="#66e066"/>
<rect x="549" y="83" width="1" height="19" fill="#000"/>
<rect x="548" y="92" width="3" height="2" fill="#000"/>
<rect x="553" y="81" width="1" height="55" fill="#000"/>
<rect x="552" y="82" width="3" height="22" fill="#000"/>
<rect x="553" y="83" width="1" height="20" fill="#f07474"/>
<rect x="556" y="89" width="1" height="27" fill="#000"/>
<rect x="555" y="96" width="3" height="14" fill="#000"/>
<rect x="556" y="97" width="1" height="12" fill="#f07474"/>
<rect x="559" y="90" width="1" height="14" fill="#000"/>
<rect x="558" y="100" width="3" height="3" fill="#000"/>
<rect x="559" y="101" width="1" height="1" fill="#66e066"/>
<rect x="563" y="73" width="1" height="23" fill="#000"/>
<rect x="562" y="89" width="3" height="4" fill="#000"/>
<rect x="563" y="90" width="1" height="2" fill="#66e066"/>
<rect x="566" y="61" width="1" height="24" fill="#000"/>
<rect x="565" y="78" width="3" height="5" fill="#000"/>
<rect x="566" y="79" width="1" height="3" fill="#66e066"/>
<rect x="570" y="61" width="1" height="17" fill="#000"/>
<rect x="569" y="67" width="3" height="10" fill="#000"/>
<rect x="570" y="68" width="1" height="8" fill="#66e066"/>
<rect x="573" y="48" width="1" height="15" fill="#000"/>
<rect x="572" y="56" width="3" height="2" fill="#000"/>
<rect x="577" y="53" width="1" height="24" fill="#000"/>
<rect x="576" y="56" width="3" height="11" fill="#000"/>
<rect x="577" y="57" width="1" height="9" fill="#f07474"/>
<rect x="580" y="64" width="1" height="15" fill="#000"/>
<rect x="579" y="64" width="3" height="5" fill="#000"/>
<rect x="580" y="65" width="1" height="3" fill="#66e066"/>
<rect x="584" y="43" width="1" height="44" fill="#000"/>
<rect x="583" y="58" width="3" height="29" fill="#000"/>
<rect x="584" y="59" width="1" height="27" fill="#f07474"/>
<rect x="587" y="75" width="1" height="26" fill="#000"/>
<rect x="586" y="85" width="3" height="8" fill="#000"/>
<rect x="587" y="86" width="1" height="6" fill="#f07474"/>
<rect x="591" y="75" width="1" height="38" fill="#000"/>
<rect x="590" y="79" width="3" height="22" fill="#000"/>
<rect x="591" y="80" width="1" height="20" fill="#66e066"/>
<rect x="594" y="56" width="1" height="56" fill="#000"/>
<rect x="593" y="57" width="3" height="55" fill="#000"/>
<rect x="594" y="58" width="1" height="53" fill="#f07474"/>
<rect x="598" y="87" width="1" height="29" fill="#000"/>
<rect x="597" y="97" width="3" height="19" fill="#000"/>
<rect x="598" y="98" width="1" height="17" fill="#66e066"/>
<rect x="601" y="76" width="1" height="42" fill="#000"/>
<rect x="600" y="82" width="3" height="19" fill="#000"/>
<rect x="601" y="83" width="1" height="17" fill="#f07474"/>
<rect x="605" y="44" width="1" height="30" fill="#000"/>
<rect x="604" y="50" width="3" height="4" fill="#000"/>
<rect x="605" y="51" width="1" height="2" fill="#66e066"/>
<rect x="608" y="46" width="1" height="15" fill="#000"/>
<rect x="607" y="50" width="3" height="3" fill="#000"/>
<rect x="608" y="51" width="1" height="1" fill="#66e066"/>
<rect x="612" y="55" width="1" height="22" fill="#000"/>
<rect x="611" y="55" width="3" height="9" fill="#000"/>
<rect x="612" y="56" width="1" height="7" fill="#f07474"/>
<rect x="615" y="50" width="1" height="17" fill="#000"/>
<rect x="614" y="56" width="3" height="3" fill="#000"/>
<rect x="615" y="57" width="1" height="1" fill="#66e066"/>
<rect x="619" y="53" width="1" height="14" fill="#000"/>
<rect x="618" y="58" width="3" height="7" fill="#000"/>
<rect x="619" y="59" width="1" height="5" fill="#f07474"/>
<rect x="622" y="60" width="1" height="18" fill="#000"/>
<rect x="621" y="65" width="3" height="7" fill="#000"/>
<rect x="622" y="66" width="1" height="5" fill="#f07474"/>
<rect x="626" y="57" width="1" height="24" fill="#000"/>
<rect x="625" y="69" width="3" height="8" fill="#000"/>
<rect x="626" y="70" width="1" height="6" fill="#f07474"/>
<rect x="629" y="59" width="1" height="20" fill="#000"/>
<rect x="628" y="59" width="3" height="15" fill="#000"/>
<rect x="629" y="60" width="1" height="13" fill="#66e066"/>
<rect x="633" y="61" width="1" height="26" fill="#000"/>
<rect x="632" y="62" width="3" height="10" fill="#000"/>
<rect x="633" y="63" width="1" height="8" fill="#f07474"/>
<rect x="636" y="65" width="1" height="20" fill="#000"/>
<rect x="635" y="76" width="3" height="4" fill="#000"/>
<rect x="636" y="77" width="1" height="2" fill="#f07474"/>
<rect x="640" y="88" width="1" height="18" fill="#000"/>
<rect x="639" y="89" width="3" height="16" fill="#000"/>
<rect x="640" y="90" width="1" height="14" fill="#f07474"/>
<rect x="643" y="80" width="1" height="31" fill="#000"/>
<rect x="642" y="102" width="3" height="4" fill="#000"/>
<rect x="643" y="103" width="1" height="2" fill="#f07474"/>
<rect x="647" y="77" width="1" height="28" fill="#000"/>
<rect x="646" y="83" width="3" height="20" fill="#000"/>
<rect x="647" y="84" width="1" height="18" fill="#66e066"/>
<rect x="650" y="85" width="1" height="30" fill="#000"/>
<rect x="649" y="95" width="3" height="17" fill="#000"/>
<rect x="650" y="96" width="1" height="15" fill="#f07474"/>
<rect x="654" y="101" width="1" height="24" fill="#000"/>
<rect x="653" y="116" width="3" height="9" fill="#000"/>
<rect x="654" y="117" width="1" height="7" fill="#f07474"/>
<rect x="657" y="106" width="1" height="28" fill="#000"/>
<rect x="656" y="118" width="3" height="15" fill="#000"/>
<rect x="657" y="119" width="1" height="13" fill="#f07474"/>
<rect x="661" y="122" width="1" height="30" fill="#000"/>
<rect x="660" y="122" width="3" height="9" fill="#000"/>
<rect x="661" y="123" width="1" height="7" fill="#f07474"/>
<rect x="664" y="109" width="1" height="28" fill="#000"/>
<rect x="663" y="116" width="3" height="12" fill="#000"/>
<rect x="664" y="117" width="1" height="10" fill="#66e066"/>
<rect x="668" y="115" width="1" height="24" fill="#000"/>
<rect x="667" y="120" width="3" height="12" fill="#000"/>
<rect x="668" y="121" width="1" height="10" fill="#f07474"/>
<rect x="671" y="117" width="1" height="31" fill="#000"/>
<rect x="670" y="134" width="3" height="7" fill="#000"/>
<rect x="671" y="135" width="1" height="5" fill="#f07474"/>
<rect x="675" y="116" width="1" height="28" fill="#000"/>
<rect x="674" y="122" width="3" height="21" fill="#000"/>
<rect x="675" y="123" width="1" height="19" fill="#f07474"/>
<rect x="678" y="124" width="1" height="24" fill="#000"/>
<rect x="677" y="137" width="3" height="4" fill="#000"/>
<rect x="678" y="138" width="1" height="2" fill="#66e066"/>
<rect x="682" y="113" width="1" height="31" fill="#000"/>
<rect x="681" y="117" width="3" height="20" fill="#000"/>
<rect x="682" y="118" width="1" height="18" fill="#66e066"/>
<rect x="685" y="106" width="1" height="18" fill="#000"/>
<rect x="684" y="119" width="3" height="5" fill="#000"/>
<rect x="685" y="120" width="1" height="3" fill="#66e066"/>
<rect x="689" y="95" width="1" height="23" fill="#000"/>
<rect x="688" y="101" width="3" height="15" fill="#000"/>
<rect x="689" y="102" width="1" height="13" fill="#66e066"/>
<rect x="692" y="94" width="1" height="18" fill="#000"/>
<rect x="691" y="102" width="3" height="4" fill="#000"/>
<rect x="692" y="103" width="1" height="2" fill="#66e066"/>
<rect x="696" y="105" width="1" height="29" fill="#000"/>
<rect x="695" y="105" width="3" height="19" fill="#000"/>
<rect x="696" y="106" width="1" height="17" fill="#f07474"/>
<rect x="699" y="102" width="1" height="24" fill="#000"/>
<rect x="698" y="104" width="3" height="17" fill="#000"/>
<rect x="699" y="105" width="1" height="15" fill="#66e066"/>
<rect x="703" y="103" width="1" height="12" fill="#000"/>
<rect x="702" y="106" width="3" height="4" fill="#000"/>
<rect x="703" y="107" width="1" height="2" fill="#66e066"/>
<rect x="706" y="89" width="1" height="21" fill="#000"/>
<rect x="705" y="94" width="3" height="11" fill="#000"/>
<rect x="706" y="95" width="1" height="9" fill="#66e066"/>
<rect x="710" y="63" width="1" height="25" fill="#000"/>
<rect x="709" y="64" width="3" height="16" fill="#000"/>
<rect x="710" y="65" width="1" height="14" fill="#66e066"/>
<rect x="713" y="48" width="1" height="21" fill="#000"/>
<rect x="712" y="52" width="3" height="6" fill="#000"/>
<rect x="713" y="53" width="1" height="4" fill="#66e066"/>
<rect x="717" y="53" width="1" height="15" fill="#000"/>
<rect x="716" y="58" width="3" height="10" fill="#000"/>
<rect x="717" y="59" width="1" height="8" fill="#f07474"/>
<rect x="720" y="60" width="1" height="18" fill="#000"/>
<rect x="719" y="66" width="3" height="8" fill="#000"/>
<rect x="720" y="67" width="1" height="6" fill="#66e066"/>
</g>
<polyline points="1,329.7 20,329.2 40,327.6 60,325 84,323.7 100,324 120,325.5 147,328 170,329.3 200,329.5 240,329.6 275,329.5 300,328.6 315,328.3 322,327.5 337,326 345,324.8 352,322.2 360,320 367,317.4 375,315.5 382,313.2 390,311 397,308 405,305 412,302.4 420,299.8 440,292.4 450,288 460,284.4 480,279.4 500,273 510,270 520,267.6 540,261.6 560,255 580,247.6 609,234.6 635,224.6 661,216.2 687,207.3 714,201.2 721,198.8" fill="none" stroke="#26a03c" stroke-width="1.2" stroke-dasharray="5 3"/>
<polyline points="1,559.5 10,559 20,558 34,557.4 44,557.5 52,555.3 66,556 85,557 95,557.4 105,556.4 112,555.3 120,555.3 128,554.3 135,553 142,551.5 151,550.4 158,548.3 166,545.5 174,545.5 181,544.5 190,546 198,546.2 205,546.6 212,543.4 219,541.6 235,541.6 243,542 252,542.7 260,542 266,538.5 276,535 288,541.5 300,545.9 311,545.9 327,544 345,547.2 352,546 362,542 374,538 390,534 398,532 404,527.6 414,527.6 424,530 440,534 448,536 458,541 468,548 478,556.5 486,558 492,557.5 498,556.5 508,555 522,553 540,552.5 556,552.5 565,555.5 575,556.5 585,558 600,558 614,552.5 624,553 634,550 644,546 658,542 678,541 688,540 698,538 706,537 720,537" fill="none" stroke="#e06868" stroke-width="1.2" stroke-dasharray="4 4"/>
<line x1="371" y1="41.4" x2="731.5" y2="42.6" stroke="#ff0000" stroke-width="3"/>
<line x1="353" y1="155.4" x2="731.5" y2="154.6" stroke="#007c00" stroke-width="3"/>
<line x1="1" y1="201.5" x2="731.5" y2="200.3" stroke="#007c00" stroke-width="3"/>
<line x1="1" y1="453.4" x2="626.5" y2="453.5" stroke="#007c00" stroke-width="3"/>
<g shape-rendering="crispEdges">
<rect x="742" y="21" width="1" height="442" fill="#9aaab3"/>
<rect x="1" y="462" width="742" height="1" fill="#9aaab3"/>
<rect x="1" y="465" width="742" height="1" fill="#9aaab3"/>
<rect x="742" y="465" width="1" height="116" fill="#9aaab3"/>
<rect x="1" y="580" width="742" height="1" fill="#9aaab3"/>
<rect x="0" y="0" width="800" height="1" fill="#9aaab3"/>
<rect x="0" y="599" width="800" height="1" fill="#9aaab3"/>
<rect x="0" y="0" width="1" height="600" fill="#9aaab3"/>
<rect x="799" y="0" width="1" height="600" fill="#9aaab3"/>
<rect x="743" y="455" width="4" height="1" fill="#9aaab3"/>
<rect x="743" y="435" width="4" height="1" fill="#9aaab3"/>
<rect x="743" y="416" width="4" height="1" fill="#9aaab3"/>
<rect x="743" y="397" width="4" height="1" fill="#9aaab3"/>
<rect x="743" y="378" width="4" height="1" fill="#9aaab3"/>
<rect x="743" y="360" width="4" height="1" fill="#9aaab3"/>
<rect x="743" y="341" width="4" height="1" fill="#9aaab3"/>
<rect x="743" y="323" width="4" height="1" fill="#9aaab3"/>
<rect x="743" y="306" width="4" height="1" fill="#9aaab3"/>
<rect x="743" y="288" width="4" height="1" fill="#9aaab3"/>
<rect x="743" y="271" width="4" height="1" fill="#9aaab3"/>
<rect x="743" y="254" width="4" height="1" fill="#9aaab3"/>
<rect x="743" y="237" width="4" height="1" fill="#9aaab3"/>
<rect x="743" y="220" width="4" height="1" fill="#9aaab3"/>
<rect x="743" y="204" width="4" height="1" fill="#9aaab3"/>
<rect x="743" y="188" width="4" height="1" fill="#9aaab3"/>
<rect x="743" y="172" width="4" height="1" fill="#9aaab3"/>
<rect x="743" y="156" width="4" height="1" fill="#9aaab3"/>
<rect x="743" y="140" width="4" height="1" fill="#9aaab3"/>
<rect x="743" y="124" width="4" height="1" fill="#9aaab3"/>
<rect x="743" y="109" width="4" height="1" fill="#9aaab3"/>
<rect x="743" y="94" width="4" height="1" fill="#9aaab3"/>
<rect x="743" y="79" width="4" height="1" fill="#9aaab3"/>
<rect x="743" y="64" width="4" height="1" fill="#9aaab3"/>
<rect x="743" y="49" width="4" height="1" fill="#9aaab3"/>
<rect x="743" y="35" width="4" height="1" fill="#9aaab3"/>
<rect x="743" y="566" width="3" height="1" fill="#9aaab3"/>
<rect x="743" y="552" width="4" height="1" fill="#9aaab3"/>
<rect x="743" y="538" width="3" height="1" fill="#9aaab3"/>
<rect x="743" y="525" width="4" height="1" fill="#9aaab3"/>
<rect x="743" y="511" width="3" height="1" fill="#9aaab3"/>
<rect x="743" y="497" width="4" height="1" fill="#9aaab3"/>
<rect x="743" y="483" width="3" height="1" fill="#9aaab3"/>
<rect x="743" y="469" width="4" height="1" fill="#9aaab3"/>
<rect x="77" y="581" width="1" height="4" fill="#9aaab3"/>
<rect x="158" y="581" width="1" height="4" fill="#9aaab3"/>
<rect x="227" y="581" width="1" height="4" fill="#9aaab3"/>
<rect x="301" y="581" width="1" height="4" fill="#9aaab3"/>
<rect x="374" y="581" width="1" height="4" fill="#9aaab3"/>
<rect x="444" y="581" width="1" height="4" fill="#9aaab3"/>
<rect x="521" y="581" width="1" height="4" fill="#9aaab3"/>
<rect x="591" y="581" width="1" height="4" fill="#9aaab3"/>
<rect x="657" y="581" width="1" height="4" fill="#9aaab3"/>
<rect x="1" y="21" width="173" height="13" fill="url(#leg)"/>
<rect x="1" y="34" width="174" height="1" fill="#a3b1ba"/>
<rect x="174" y="21" width="1" height="13" fill="#a3b1ba"/>
<rect x="29" y="21" width="1" height="13" fill="#b8c6ce"/>
<rect x="1" y="466" width="179" height="13" fill="url(#leg)"/>
<rect x="1" y="479" width="180" height="1" fill="#a3b1ba"/>
<rect x="180" y="466" width="1" height="13" fill="#a3b1ba"/>
<rect x="41" y="466" width="1" height="13" fill="#b8c6ce"/>
<rect x="6" y="8" width="1" height="11" fill="#c42a2a"/>
<rect x="3" y="10" width="7" height="7" fill="#c42a2a"/><rect x="4" y="11" width="5" height="5" fill="#f27c7c"/>
<rect x="14" y="3" width="1" height="16" fill="#0c9a0c"/>
<rect x="11" y="6" width="7" height="10" fill="#0c9a0c"/><rect x="12" y="7" width="5" height="8" fill="#66e466"/>
<rect x="747" y="58" width="35" height="15" fill="url(#gold)" stroke="#8fa0aa" stroke-width="1"/>
<rect x="747" y="191" width="35" height="15" fill="url(#wbox)" stroke="#a8b4bc" stroke-width="1"/>
<rect x="747" y="530" width="31" height="15" fill="url(#wbox)" stroke="#a8b4bc" stroke-width="1"/>
<rect x="747" y="562" width="36" height="15" fill="url(#wbox)" stroke="#a8b4bc" stroke-width="1"/>
</g>
<text x="22.4" y="14.5" font-size="11" font-weight="bold" fill="#000" text-anchor="start" textLength="114.5" lengthAdjust="spacingAndGlyphs">BT - BT Group PLC (-)</text>
<text x="149.7" y="14.5" font-size="11" font-weight="bold" fill="#000" text-anchor="start" textLength="79.7" lengthAdjust="spacingAndGlyphs">464.40 (+0.13%)</text>
<text x="241.6" y="14.5" font-size="11" font-weight="bold" fill="#000" text-anchor="start" textLength="25" lengthAdjust="spacingAndGlyphs">Daily</text>
<text x="273" y="14.5" font-size="11" font-weight="bold" fill="#000" text-anchor="start" textLength="91.4" lengthAdjust="spacingAndGlyphs">Jun 25 2015 10:19</text>
<text x="713.7" y="14.5" font-size="11" font-weight="bold" fill="#000" text-anchor="start" textLength="82.5" lengthAdjust="spacingAndGlyphs">IT-Finance.com</text>
<text x="2.4" y="31" font-size="11" font-weight="normal" fill="#000" text-anchor="start" textLength="25" lengthAdjust="spacingAndGlyphs">Price</text>
<text x="31.5" y="31" font-size="11" font-weight="normal" fill="#1a9a36" text-anchor="start" textLength="140" lengthAdjust="spacingAndGlyphs">Moving average (Simple 200)</text>
<text x="3" y="476" font-size="11" font-weight="normal" fill="#44cc44" text-anchor="start" textLength="35" lengthAdjust="spacingAndGlyphs">Volume</text>
<text x="43.5" y="476" font-size="11" font-weight="normal" fill="#dc5a5a" text-anchor="start" textLength="133.5" lengthAdjust="spacingAndGlyphs">Moving average (Simple 20)</text>
<text x="3" y="459.5" font-size="11" font-weight="normal" fill="#000" text-anchor="start" textLength="83" lengthAdjust="spacingAndGlyphs">©IT-Finance.com</text>
<text x="749" y="439" font-size="10.6" font-weight="normal" fill="#000" text-anchor="start" textLength="17" lengthAdjust="spacingAndGlyphs">355</text>
<text x="749" y="420" font-size="10.6" font-weight="normal" fill="#000" text-anchor="start" textLength="17" lengthAdjust="spacingAndGlyphs">360</text>
<text x="749" y="401" font-size="10.6" font-weight="normal" fill="#000" text-anchor="start" textLength="17" lengthAdjust="spacingAndGlyphs">365</text>
<text x="749" y="382" font-size="10.6" font-weight="normal" fill="#000" text-anchor="start" textLength="17" lengthAdjust="spacingAndGlyphs">370</text>
<text x="749" y="364" font-size="10.6" font-weight="normal" fill="#000" text-anchor="start" textLength="17" lengthAdjust="spacingAndGlyphs">375</text>
<text x="749" y="345" font-size="10.6" font-weight="normal" fill="#000" text-anchor="start" textLength="17" lengthAdjust="spacingAndGlyphs">380</text>
<text x="749" y="327" font-size="10.6" font-weight="normal" fill="#000" text-anchor="start" textLength="17" lengthAdjust="spacingAndGlyphs">385</text>
<text x="749" y="310" font-size="10.6" font-weight="normal" fill="#000" text-anchor="start" textLength="17" lengthAdjust="spacingAndGlyphs">390</text>
<text x="749" y="292" font-size="10.6" font-weight="normal" fill="#000" text-anchor="start" textLength="17" lengthAdjust="spacingAndGlyphs">395</text>
<text x="749" y="275.6" font-size="13" font-weight="bold" fill="#000" text-anchor="start" textLength="20" lengthAdjust="spacingAndGlyphs">400</text>
<text x="749" y="258" font-size="10.6" font-weight="normal" fill="#000" text-anchor="start" textLength="17" lengthAdjust="spacingAndGlyphs">405</text>
<text x="749" y="241" font-size="10.6" font-weight="normal" fill="#000" text-anchor="start" textLength="17" lengthAdjust="spacingAndGlyphs">410</text>
<text x="749" y="224" font-size="10.6" font-weight="normal" fill="#000" text-anchor="start" textLength="17" lengthAdjust="spacingAndGlyphs">415</text>
<text x="749" y="192" font-size="10.6" font-weight="normal" fill="#000" text-anchor="start" textLength="17" lengthAdjust="spacingAndGlyphs">425</text>
<text x="749" y="176" font-size="10.6" font-weight="normal" fill="#000" text-anchor="start" textLength="17" lengthAdjust="spacingAndGlyphs">430</text>
<text x="749" y="160" font-size="10.6" font-weight="normal" fill="#000" text-anchor="start" textLength="17" lengthAdjust="spacingAndGlyphs">435</text>
<text x="749" y="144" font-size="10.6" font-weight="normal" fill="#000" text-anchor="start" textLength="17" lengthAdjust="spacingAndGlyphs">440</text>
<text x="749" y="128" font-size="10.6" font-weight="normal" fill="#000" text-anchor="start" textLength="17" lengthAdjust="spacingAndGlyphs">445</text>
<text x="749" y="113.6" font-size="13" font-weight="bold" fill="#000" text-anchor="start" textLength="20" lengthAdjust="spacingAndGlyphs">450</text>
<text x="749" y="98" font-size="10.6" font-weight="normal" fill="#000" text-anchor="start" textLength="17" lengthAdjust="spacingAndGlyphs">455</text>
<text x="749" y="83" font-size="10.6" font-weight="normal" fill="#000" text-anchor="start" textLength="17" lengthAdjust="spacingAndGlyphs">460</text>
<text x="749" y="53" font-size="10.6" font-weight="normal" fill="#000" text-anchor="start" textLength="17" lengthAdjust="spacingAndGlyphs">470</text>
<text x="749" y="459.4" font-size="13" font-weight="bold" fill="#000" text-anchor="start" textLength="20" lengthAdjust="spacingAndGlyphs">350</text>
<text x="749" y="69.5" font-size="10.5" font-weight="normal" fill="#000" text-anchor="start" textLength="32" lengthAdjust="spacingAndGlyphs">464.40</text>
<text x="749" y="202.5" font-size="10.5" font-weight="normal" fill="#10a030" text-anchor="start" textLength="32" lengthAdjust="spacingAndGlyphs">421.62</text>
<text x="749" y="475.5" font-size="10.6" font-weight="normal" fill="#000" text-anchor="start" textLength="19.5" lengthAdjust="spacingAndGlyphs">80M</text>
<text x="749" y="501.1" font-size="10.6" font-weight="normal" fill="#000" text-anchor="start" textLength="19.5" lengthAdjust="spacingAndGlyphs">60M</text>
<text x="749" y="528.6" font-size="10.6" font-weight="normal" fill="#000" text-anchor="start" textLength="19.5" lengthAdjust="spacingAndGlyphs">40M</text>
<text x="749" y="555.8" font-size="10.6" font-weight="normal" fill="#000" text-anchor="start" textLength="19.5" lengthAdjust="spacingAndGlyphs">20M</text>
<text x="749" y="541.5" font-size="10.6" font-weight="normal" fill="#dc5050" text-anchor="start" textLength="29" lengthAdjust="spacingAndGlyphs">30.6M</text>
<text x="749" y="573.5" font-size="10.5" font-weight="normal" fill="#44cc44" text-anchor="start" textLength="33" lengthAdjust="spacingAndGlyphs">3,584K</text>
<text x="76.8" y="596" font-size="10.7" font-weight="normal" fill="#000" text-anchor="middle">Oct</text>
<text x="157.8" y="596" font-size="10.7" font-weight="normal" fill="#000" text-anchor="middle">Nov</text>
<text x="226.8" y="596" font-size="10.7" font-weight="normal" fill="#000" text-anchor="middle">Dec</text>
<text x="443.8" y="596" font-size="10.7" font-weight="normal" fill="#000" text-anchor="middle">Mar</text>
<text x="520.8" y="596" font-size="10.7" font-weight="normal" fill="#000" text-anchor="middle">Apr</text>
<text x="590.8" y="596" font-size="10.7" font-weight="normal" fill="#000" text-anchor="middle">May</text>
<text x="656.8" y="596" font-size="10.7" font-weight="normal" fill="#000" text-anchor="middle">Jun</text>
<text x="373.8" y="596" font-size="10.7" font-weight="normal" fill="#000" text-anchor="middle">Feb</text>
<text x="301.5" y="596" font-size="12" font-weight="bold" fill="#000" text-anchor="middle" textLength="27.4" lengthAdjust="spacingAndGlyphs">2015</text>
</svg></body></html>
